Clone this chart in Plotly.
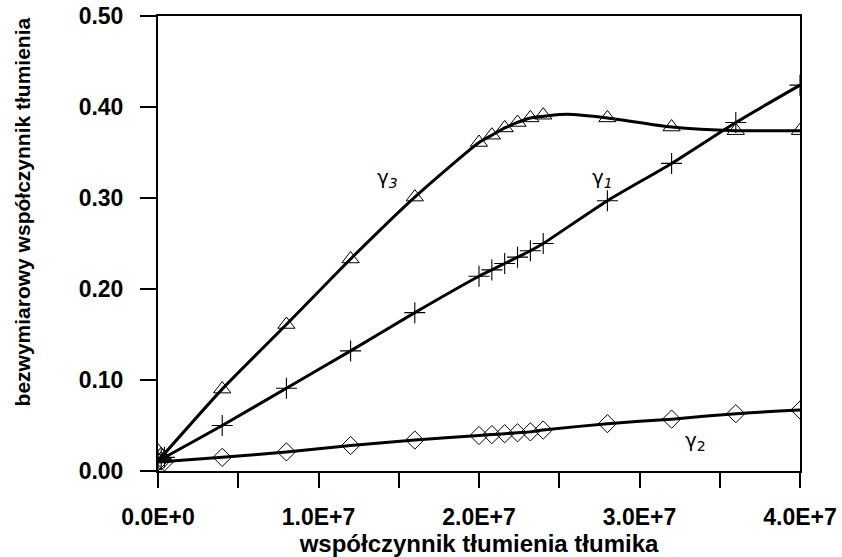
import plotly.graph_objects as go

# --- data ---
x_vals = [0, 2e5, 4e5, 4e6, 8e6, 1.2e7, 1.6e7, 2.0e7, 2.08e7, 2.16e7, 2.24e7, 2.32e7, 2.4e7, 2.8e7, 3.2e7, 3.6e7, 4.0e7]
gamma1 = [0.012, 0.013, 0.015, 0.050, 0.091, 0.132, 0.174, 0.214, 0.221, 0.228, 0.235, 0.242, 0.250, 0.297, 0.338, 0.383, 0.424]
gamma2 = [0.010, 0.011, 0.010, 0.015, 0.021, 0.028, 0.034, 0.039, 0.040, 0.041, 0.042, 0.043, 0.045, 0.052, 0.057, 0.063, 0.067]
gamma3 = [0.022, 0.018, 0.014, 0.090, 0.161, 0.233, 0.301, 0.361, 0.369, 0.377, 0.383, 0.388, 0.391, 0.388, 0.378, 0.374, 0.374]

# curve points (start of each fitted line + measured points beyond the origin cluster)
line_x = [0] + x_vals[3:]
line1 = [0.011] + gamma1[3:]
line2 = [0.010] + gamma2[3:]
line3 = [0.011] + gamma3[3:12] + [0.392] + gamma3[13:]
line3_x = [0] + x_vals[3:12] + [2.55e7] + x_vals[13:]

x_tickvals = [0, 1e7, 2e7, 3e7, 4e7]
x_ticktext = ["0.0E+0", "1.0E+7", "2.0E+7", "3.0E+7", "4.0E+7"]
x_minor = [5e6, 1.5e7, 2.5e7, 3.5e7]
y_tickvals = [0.0, 0.1, 0.2, 0.3, 0.4, 0.5]

FONT = "Liberation Sans, Arial, sans-serif"

fig = go.Figure()
line_style = dict(color="black", width=3, shape="spline", smoothing=0.6)
fig.add_trace(go.Scatter(x=line_x, y=line1, mode="lines", line=line_style, hoverinfo="skip"))
fig.add_trace(go.Scatter(x=line_x, y=line2, mode="lines", line=line_style, hoverinfo="skip"))
fig.add_trace(go.Scatter(x=line3_x, y=line3, mode="lines", line=line_style, hoverinfo="skip"))

fig.add_trace(go.Scatter(x=x_vals, y=gamma1, mode="markers",
                         marker=dict(symbol="cross-thin", size=15, color="black",
                                     line=dict(color="black", width=1.1))))
fig.add_trace(go.Scatter(x=x_vals, y=gamma2, mode="markers",
                         marker=dict(symbol="diamond-open", size=14, color="black",
                                     line=dict(color="black", width=1))))
fig.add_trace(go.Scatter(x=x_vals, y=gamma3, mode="markers",
                         marker=dict(symbol="triangle-up-open", size=15, color="black",
                                     line=dict(color="black", width=1))))

ann_font = dict(family="DejaVu Sans, sans-serif", size=20, color="black")
fig.add_annotation(x=1.43e7, y=0.322, text="γ<sub><i>3</i></sub>", showarrow=False, font=ann_font)
fig.add_annotation(x=2.77e7, y=0.322, text="γ<sub><i>1</i></sub>", showarrow=False, font=ann_font)
fig.add_annotation(x=3.35e7, y=0.033, text="γ<sub>2</sub>", showarrow=False, font=ann_font)

fig.add_annotation(xref="paper", yref="paper", x=(22 - 158) / 642, y=(470 - 212) / 454,
                   text="bezwymiarowy współczynnik tłumienia", textangle=-90,
                   showarrow=False, xanchor="center", yanchor="middle",
                   font=dict(family=FONT, size=21, color="black", weight="bold"))

fig.update_layout(
    width=842, height=557,
    margin=dict(l=158, r=42, t=16, b=86),
    paper_bgcolor="white", plot_bgcolor="white",
    showlegend=False,
    font=dict(family=FONT, color="black"),
    xaxis=dict(range=[0, 4e7], tickvals=x_tickvals, ticktext=x_ticktext, automargin=False,
               ticks="outside", ticklen=15, tickwidth=2, tickcolor="black",
               minor=dict(tickvals=x_minor, ticks="outside", ticklen=15,
                          tickwidth=2, tickcolor="black"),
               showline=True, linecolor="black", linewidth=2, mirror=True,
               showgrid=False, zeroline=False,
               tickfont=dict(family=FONT, size=23, color="black", weight="bold"),
               ticklabelstandoff=9,
               title=dict(text="współczynnik tłumienia tłumika", standoff=4,
                          font=dict(family=FONT, size=24, color="black", weight="bold"))),
    yaxis=dict(range=[0, 0.5], tickvals=y_tickvals, tickformat=".2f", automargin=False,
               ticks="outside", ticklen=16, tickwidth=2, tickcolor="black",
               showline=True, linecolor="black", linewidth=2, mirror=True,
               showgrid=False, zeroline=False,
               tickfont=dict(family=FONT, size=23, color="black", weight="bold"),
               ticklabelstandoff=12),
)

fig.write_html("out.html")
